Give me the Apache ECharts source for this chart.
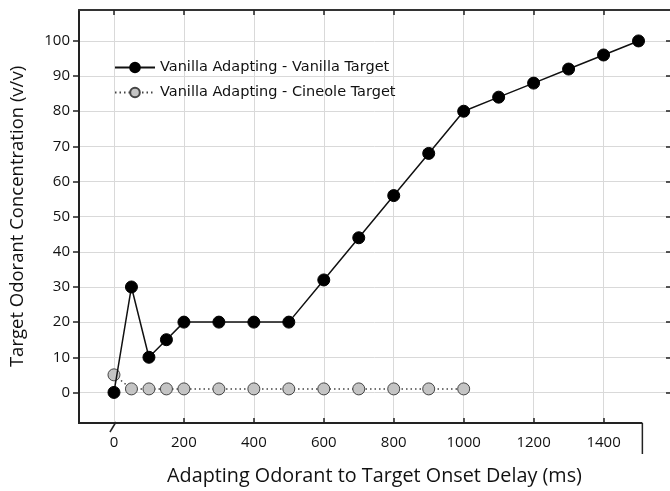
<!DOCTYPE html>
<html><head><meta charset="utf-8">
<script src="https://cdn.jsdelivr.net/npm/echarts@6/dist/echarts.min.js"></script>
<style>html,body{margin:0;padding:0;background:#fff}#c{width:670px;height:491px}</style>
</head><body><div id="c"></div>
<script>
// ---- data ----
const vanillaDelays = [0, 50, 100, 150, 200, 300, 400, 500, 600, 700, 800, 900, 1000, 1100, 1200, 1300, 1400, 1500];
const vanillaTarget = [0, 30, 10, 15, 20, 20, 20, 20, 32, 44, 56, 68, 80, 84, 88, 92, 96, 100];
const cineoleDelays = [0, 50, 100, 150, 200, 300, 400, 500, 600, 700, 800, 900, 1000];
const cineoleTarget = [5, 1, 1, 1, 1, 1, 1, 1, 1, 1, 1, 1, 1];
const xTickValues = [0, 200, 400, 600, 800, 1000, 1200, 1400];
const xTickBottom = [200, 400, 600, 800, 1000, 1200, 1400];
const yTickValues = [0, 10, 20, 30, 40, 50, 60, 70, 80, 90, 100];
const seriesNames = ['Vanilla Adapting - Vanilla Target', 'Vanilla Adapting - Cineole Target'];
const xTitle = 'Adapting Odorant to Target Onset Delay (ms)';
const yTitle = 'Target Odorant Concentration (v/v)';
const X_MIN = -100, X_MAX = 1590, Y_MIN = -8.7, Y_MAX = 108.8, X_AXIS_END = 1511;

const pairs = (xs, ys) => xs.map((x, i) => [x, ys[i]]);
const FONT = 'Open Sans';
const AX = '#222';
const GRID = '#d9d9d9';

const chart = echarts.init(document.getElementById('c'));
chart.setOption({
  animation: false,
  backgroundColor: '#fff',
  grid: { left: 79, right: 0, top: 10, bottom: 67 },
  legend: {
    orient: 'vertical', left: 109, top: 55,
    itemWidth: 40, itemHeight: 12, itemGap: 10,
    data: [seriesNames[0], seriesNames[1]],
    textStyle: { fontFamily: 'DejaVu Sans', fontSize: 14.5, color: '#111' }
  },
  xAxis: [
    {
      type: 'value', position: 'bottom', min: X_MIN, max: X_MAX,
      name: xTitle, nameLocation: 'middle', nameGap: 43,
      nameTextStyle: { fontFamily: FONT, fontSize: 19.8, color: '#111' },
      axisLine: { show: false, onZero: false },
      axisTick: { show: true, inside: true, length: 5, customValues: xTickBottom, lineStyle: { color: AX, width: 1.5 } },
      axisLabel: { customValues: xTickValues, margin: 12, fontFamily: FONT, fontSize: 15, color: '#111', formatter: v => String(v) },
      splitLine: { show: false }
    },
    {
      type: 'value', position: 'top', min: X_MIN, max: X_MAX,
      axisLine: { show: true, onZero: false, lineStyle: { color: '#333', width: 2 } },
      axisTick: { show: true, inside: true, length: 5, customValues: xTickValues, lineStyle: { color: AX, width: 1.5 } },
      axisLabel: { show: false },
      splitLine: { show: true, lineStyle: { color: GRID, width: 1 } }
    }
  ],
  yAxis: [
    {
      type: 'value', min: Y_MIN, max: Y_MAX,
      name: yTitle, nameLocation: 'middle', nameGap: 52,
      nameTextStyle: { fontFamily: FONT, fontSize: 18.5, color: '#111' },
      axisLine: { show: true, onZero: false, lineStyle: { color: AX, width: 2 } },
      axisTick: { show: true, inside: false, length: 6, customValues: yTickValues, lineStyle: { color: AX, width: 1.5 } },
      axisLabel: { customValues: yTickValues, margin: 9, fontFamily: FONT, fontSize: 15, color: '#111', formatter: v => String(v) },
      splitLine: { show: true, lineStyle: { color: GRID, width: 1 } }
    },
    {
      type: 'value', position: 'right', min: Y_MIN, max: Y_MAX,
      axisLine: { show: false, onZero: false },
      axisTick: { show: true, inside: true, length: 4, customValues: yTickValues, lineStyle: { color: AX, width: 1.5 } },
      axisLabel: { show: false },
      splitLine: { show: false }
    }
  ],
  series: [
    {
      name: seriesNames[1], type: 'line', xAxisIndex: 0, yAxisIndex: 0,
      data: pairs(cineoleDelays, cineoleTarget),
      symbol: 'circle', symbolSize: 12,
      itemStyle: { color: '#c4c4c4', borderColor: '#444', borderWidth: 1 },
      lineStyle: { color: '#444', width: 1.5, type: [1.5, 3] },
      z: 2
    },
    {
      name: seriesNames[0], type: 'line', xAxisIndex: 0, yAxisIndex: 0,
      data: pairs(vanillaDelays, vanillaTarget),
      symbol: 'circle', symbolSize: 12,
      itemStyle: { color: '#000', borderColor: '#000', borderWidth: 1 },
      lineStyle: { color: '#111', width: 1.5 },
      z: 3
    }
  ]
});

// decorations: bottom axis line ending with a terminal mark, plus a break mark at 0
const x0 = chart.convertToPixel({ xAxisIndex: 0 }, 0);
const xEnd = chart.convertToPixel({ xAxisIndex: 0 }, X_AXIS_END);
const xLeft = chart.convertToPixel({ xAxisIndex: 0 }, X_MIN);
const yBot = chart.convertToPixel({ yAxisIndex: 0 }, Y_MIN);
chart.setOption({
  graphic: [
    { type: 'line', shape: { x1: xLeft - 1, y1: yBot, x2: xEnd, y2: yBot }, style: { stroke: AX, lineWidth: 2 }, z: 10 },
    { type: 'line', shape: { x1: xEnd, y1: yBot, x2: xEnd, y2: yBot + 31 }, style: { stroke: AX, lineWidth: 1.5 }, z: 10 },
    { type: 'line', shape: { x1: x0 - 4, y1: yBot + 9, x2: x0 + 2, y2: yBot - 1 }, style: { stroke: AX, lineWidth: 1.5 }, z: 10 }
  ]
});
</script>
</body></html>
